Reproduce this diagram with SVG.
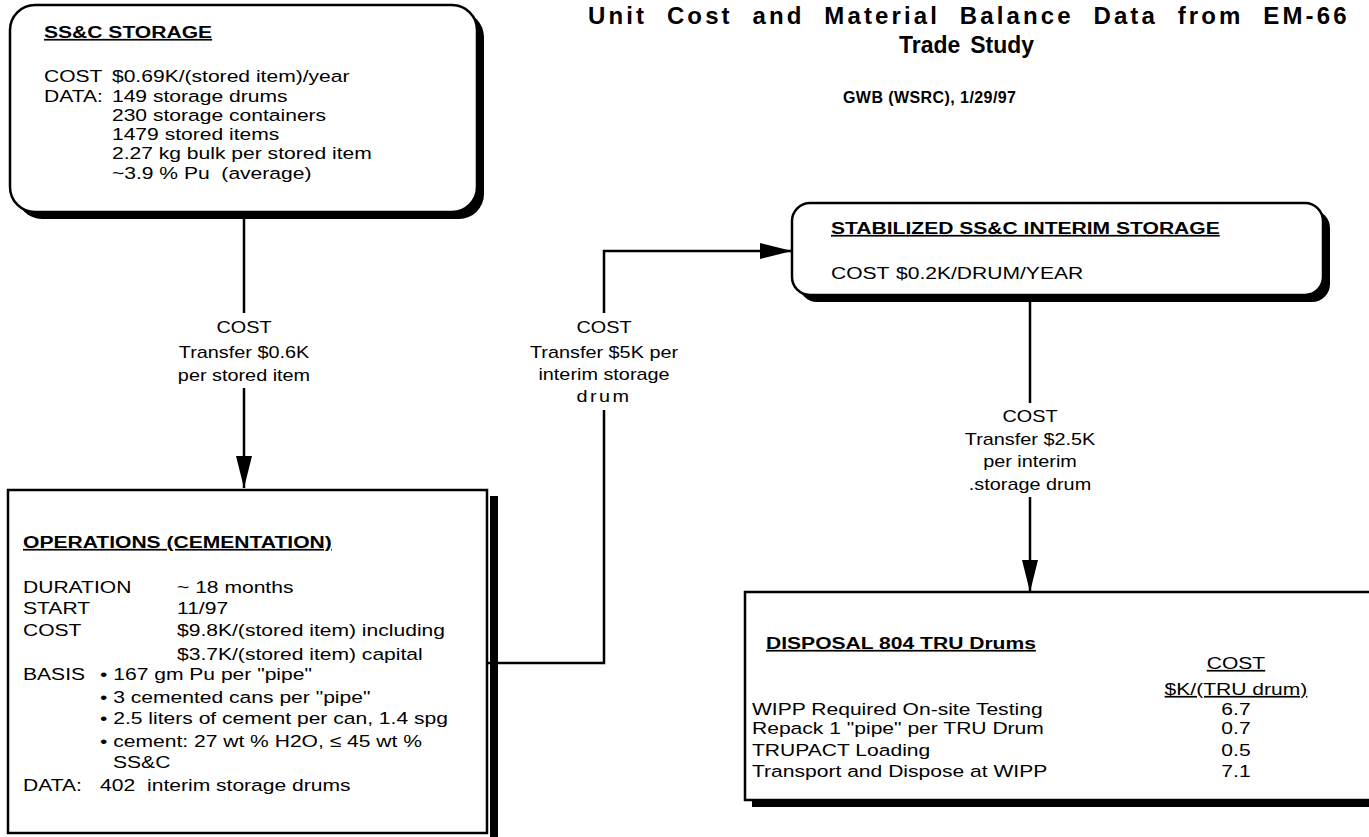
<svg xmlns="http://www.w3.org/2000/svg" width="1369" height="837" viewBox="0 0 1369 837">
<style>
.t{font-family:"Liberation Sans",Arial,sans-serif;font-size:17px;fill:#000}
.b{font-weight:bold}
.u{text-decoration:underline}
.lbl{font-family:"Liberation Sans",Arial,sans-serif;font-size:16px;fill:#000;text-anchor:middle}
.mid{text-anchor:middle}
.box{fill:#fff;stroke:#000;stroke-width:2.5}
.sh{fill:#000}
.ln{fill:none;stroke:#000;stroke-width:2.5}
.hd{font-family:"Liberation Sans",Arial,sans-serif;font-weight:bold;fill:#000}
</style>
<defs>
<marker id="ah" viewBox="0 0 32 16" refX="32" refY="8" markerWidth="32" markerHeight="16" markerUnits="userSpaceOnUse" orient="auto">
<path d="M0 0 L32 8 L0 16 Z" fill="#000"/>
</marker>
</defs>
<rect width="1369" height="837" fill="#fff"/>

<g id="header">
<text class="hd" x="588" y="24" font-size="24" letter-spacing="2.5" word-spacing="10" textLength="761" lengthAdjust="spacing">Unit Cost and Material Balance Data from EM-66</text>
<text class="hd" x="899" y="53" font-size="24" word-spacing="4" textLength="135" lengthAdjust="spacingAndGlyphs">Trade Study</text>
<text class="hd" x="843" y="103" font-size="16" textLength="173" lengthAdjust="spacing">GWB (WSRC), 1/29/97</text>
</g>

<g id="connectors">
<path class="ln" d="M244 213 V313"/>
<path class="ln" d="M244 388 V488" marker-end="url(#ah)"/>
<path class="ln" d="M488 663 H604 V410"/>
<path class="ln" d="M604 313 V251 H792" marker-end="url(#ah)"/>
<path class="ln" d="M1030 297 V403"/>
<path class="ln" d="M1030 497 V592" marker-end="url(#ah)"/>
<g transform="translate(244,0) scale(1.24,1)">
<text class="lbl" x="0" y="333">COST</text>
<text class="lbl" x="0" y="358">Transfer $0.6K</text>
<text class="lbl" x="0" y="381">per stored item</text>
</g>
<g transform="translate(604,0) scale(1.24,1)">
<text class="lbl" x="0" y="333">COST</text>
<text class="lbl" x="0" y="358">Transfer $5K per</text>
<text class="lbl" x="0" y="380">interim storage</text>
<text class="lbl" x="0" y="402" letter-spacing="2">drum</text>
</g>
<g transform="translate(1030,0) scale(1.24,1)">
<text class="lbl" x="0" y="422">COST</text>
<text class="lbl" x="0" y="445">Transfer $2.5K</text>
<text class="lbl" x="0" y="467">per interim</text>
<text class="lbl" x="0" y="490">.storage drum</text>
</g>
</g>

<g id="ssc-storage">
<rect class="sh" x="17" y="12" width="467" height="207" rx="25"/>
<rect class="box" x="10" y="5" width="467" height="207" rx="25"/>
<g transform="translate(44,0) scale(1.24,1)">
<text class="t b u" x="0" y="38">SS&amp;C STORAGE</text>
<text class="t" x="0" y="82">COST</text><text class="t" x="54.8" y="82">$0.69K/(stored item)/year</text>
<text class="t" x="0" y="102">DATA:</text><text class="t" x="54.8" y="102">149 storage drums</text>
<text class="t" x="54.8" y="121">230 storage containers</text>
<text class="t" x="54.8" y="140">1479 stored items</text>
<text class="t" x="54.8" y="159">2.27 kg bulk per stored item</text>
<text class="t" x="54.8" y="179" xml:space="preserve">~3.9 % Pu  (average)</text>
</g>
</g>

<g id="stabilized-storage">
<rect class="sh" x="799" y="210" width="531" height="92" rx="18"/>
<rect class="box" x="792" y="203" width="531" height="92" rx="18"/>
<g transform="translate(831,0) scale(1.24,1)">
<text class="t b u" x="0" y="234">STABILIZED SS&amp;C INTERIM STORAGE</text>
<text class="t" x="0" y="279">COST</text><text class="t" x="52.4" y="279">$0.2K/DRUM/YEAR</text>
</g>
</g>

<g id="operations">
<rect class="sh" x="490" y="496" width="8" height="345"/>
<rect class="box" x="8" y="490" width="479" height="343"/>
<g transform="translate(23,0) scale(1.24,1)">
<text class="t b u" x="0" y="548">OPERATIONS (CEMENTATION)</text>
<text class="t" x="0" y="593">DURATION</text><text class="t" x="124.2" y="593">~ 18 months</text>
<text class="t" x="0" y="614">START</text><text class="t" x="124.2" y="614">11/97</text>
<text class="t" x="0" y="636">COST</text><text class="t" x="124.2" y="636">$9.8K/(stored item) including</text>
<text class="t" x="124.2" y="660">$3.7K/(stored item) capital</text>
<text class="t" x="0" y="680">BASIS</text><text class="t" x="62.1" y="680">• 167 gm Pu per "pipe"</text>
<text class="t" x="62.1" y="703">• 3 cemented cans per "pipe"</text>
<text class="t" x="62.1" y="724">• 2.5 liters of cement per can, 1.4 spg</text>
<text class="t" x="62.1" y="747">• cement: 27 wt % H2O, ≤ 45 wt %</text>
<text class="t" x="72.6" y="768">SS&amp;C</text>
<text class="t" x="0" y="791">DATA:</text><text class="t" x="62.1" y="791">402</text><text class="t" x="100" y="791">interim storage drums</text>
</g>
</g>

<g id="disposal">
<rect class="sh" x="752" y="599" width="640" height="208"/>
<rect class="box" x="745" y="592" width="640" height="208"/>
<g transform="translate(752,0) scale(1.24,1)">
<text class="t b u" x="11.3" y="649">DISPOSAL 804 TRU Drums</text>
<text class="t u mid" x="390.3" y="669">COST</text>
<text class="t u mid" x="390.3" y="695">$K/(TRU drum)</text>
<text class="t" x="0" y="715">WIPP Required On-site Testing</text><text class="t mid" x="390.3" y="715">6.7</text>
<text class="t" x="0" y="734">Repack 1 "pipe" per TRU Drum</text><text class="t mid" x="390.3" y="734">0.7</text>
<text class="t" x="0" y="756">TRUPACT Loading</text><text class="t mid" x="390.3" y="756">0.5</text>
<text class="t" x="0" y="777">Transport and Dispose at WIPP</text><text class="t mid" x="390.3" y="777">7.1</text>
</g>
</g>
</svg>
